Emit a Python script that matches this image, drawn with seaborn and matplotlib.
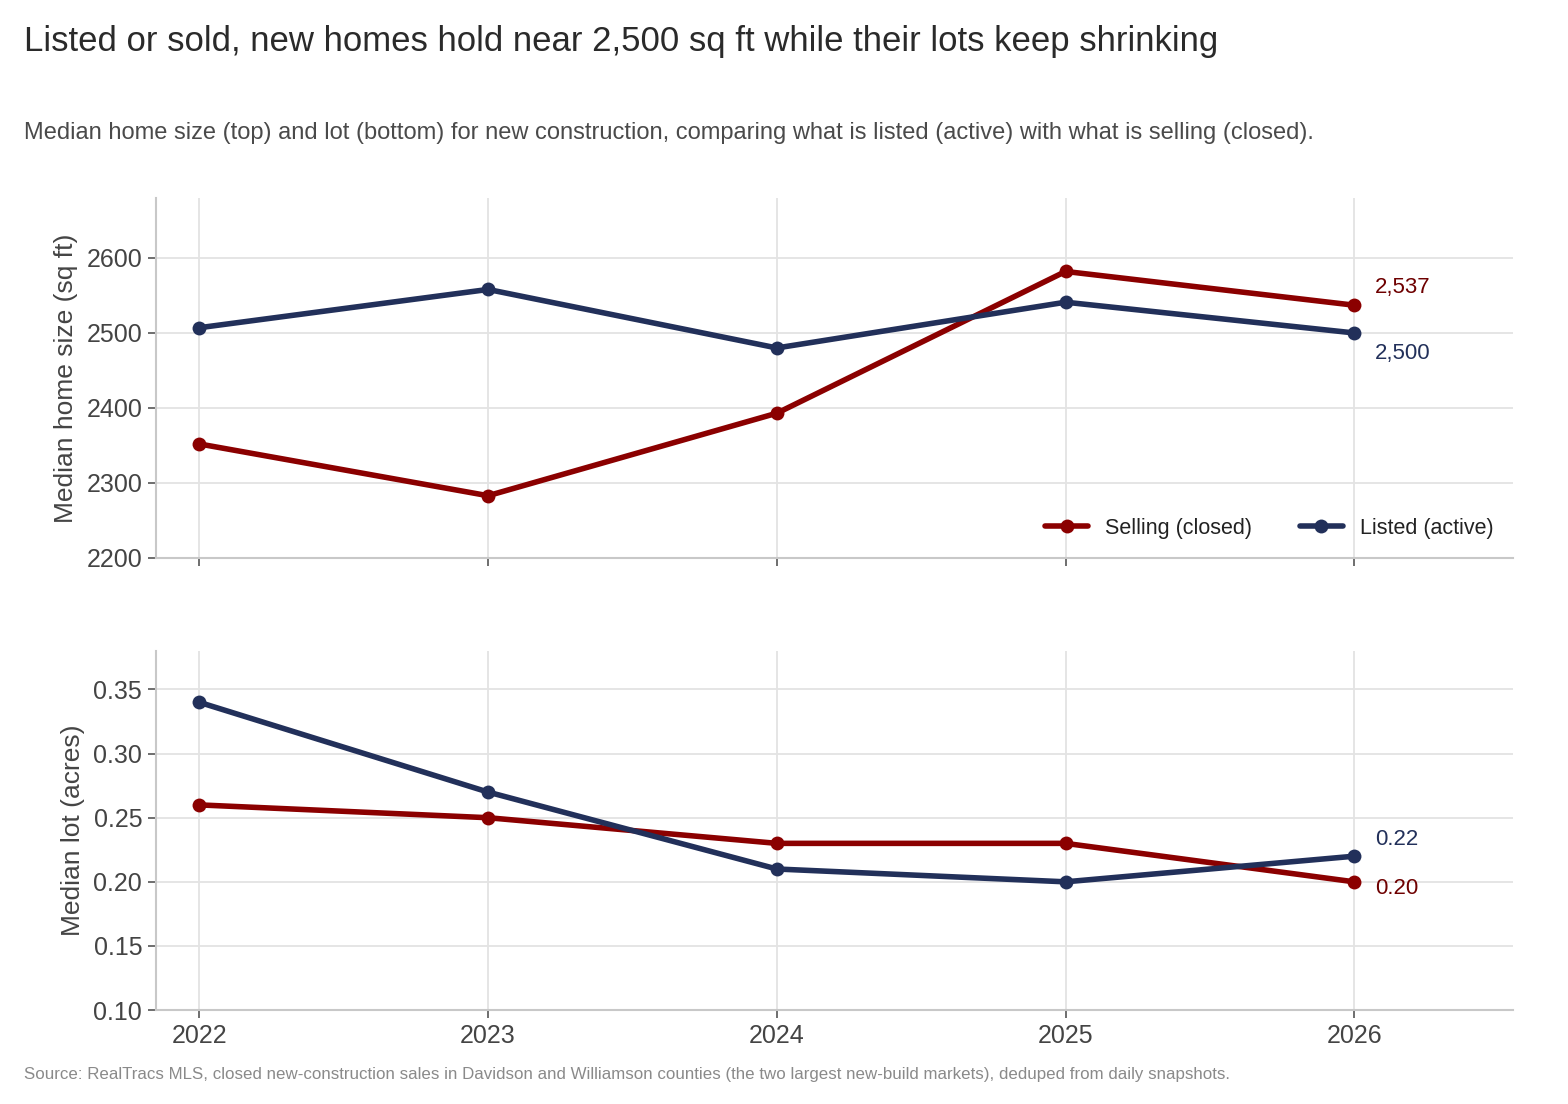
import matplotlib
matplotlib.use("Agg")
import matplotlib.pyplot as plt
import seaborn as sns
import pandas as pd

years = [2022, 2023, 2024, 2025, 2026]
size_selling = [2352, 2283, 2393, 2582, 2537]
size_listed = [2507, 2558, 2480, 2541, 2500]
lot_selling = [0.26, 0.25, 0.23, 0.23, 0.20]
lot_listed = [0.34, 0.27, 0.21, 0.20, 0.22]
series_names = ["Selling (closed)", "Listed (active)"]

RED = "#8b0000"
NAVY = "#22305a"
RED_TXT = "#6e0000"

sns.set_theme(style="whitegrid")
plt.rcParams["font.family"] = ["Liberation Sans", "DejaVu Sans"]

size_df = pd.DataFrame({
    "year": years * 2,
    "value": size_selling + size_listed,
    "series": [series_names[0]] * 5 + [series_names[1]] * 5,
})
lot_df = pd.DataFrame({
    "year": years * 2,
    "value": lot_selling + lot_listed,
    "series": [series_names[0]] * 5 + [series_names[1]] * 5,
})
palette = {series_names[0]: RED, series_names[1]: NAVY}

fig = plt.figure(figsize=(15.68, 11.04), dpi=100)
ax1 = fig.add_axes([0.0995, 0.4946, 0.8655, 0.3261])
ax2 = fig.add_axes([0.0995, 0.0851, 0.8655, 0.3252])

for ax, df in [(ax1, size_df), (ax2, lot_df)]:
    sns.lineplot(data=df, x="year", y="value", hue="series", palette=palette,
                 marker="o", markersize=10, markeredgewidth=0, linewidth=4,
                 ax=ax, legend=(ax is ax1))
    ax.set_xlim(2021.85, 2026.55)
    ax.set_xticks(years)
    ax.grid(True, color="#e3e3e3", linewidth=1.3)
    for s in ["top", "right"]:
        ax.spines[s].set_visible(False)
    for s in ["left", "bottom"]:
        ax.spines[s].set_color("#c8c8c8")
        ax.spines[s].set_linewidth(1.5)
    ax.tick_params(axis="both", which="both", length=6, width=1.2, color="#555555",
                   labelsize=18, labelcolor="#444444", bottom=True, left=True, pad=4)
    ax.set_xlabel("")

ax1.set_ylim(2200, 2680)
ax1.set_yticks([2200, 2300, 2400, 2500, 2600])
ax1.set_xticklabels([])
ax1.set_ylabel("Median home size (sq ft)", fontsize=19, color="#444444", labelpad=6)

ax2.set_ylim(0.10, 0.38)
ax2.set_yticks([0.10, 0.15, 0.20, 0.25, 0.30, 0.35])
ax2.set_yticklabels([f"{v:.2f}" for v in [0.10, 0.15, 0.20, 0.25, 0.30, 0.35]])
ax2.set_xticklabels([str(y) for y in years])
ax2.set_ylabel("Median lot (acres)", fontsize=19, color="#444444", labelpad=6)

leg = ax1.legend(loc="lower right", ncol=2, frameon=False, fontsize=15.5,
                 handlelength=2.0, columnspacing=2.2, bbox_to_anchor=(1.0, 0.0))
for t in leg.get_texts():
    t.set_color("#222222")

# End labels
ax1.annotate(f"{size_selling[-1]:,}", (years[-1], size_selling[-1]), xytext=(15, 13),
             textcoords="offset points", fontsize=16, color=RED_TXT, va="center", ha="left")
ax1.annotate(f"{size_listed[-1]:,}", (years[-1], size_listed[-1]), xytext=(15, -15),
             textcoords="offset points", fontsize=16, color=NAVY, va="center", ha="left")
ax2.annotate(f"{lot_listed[-1]:.2f}", (years[-1], lot_listed[-1]), xytext=(15, 12),
             textcoords="offset points", fontsize=16, color=NAVY, va="center", ha="left")
ax2.annotate(f"{lot_selling[-1]:.2f}", (years[-1], lot_selling[-1]), xytext=(15, -4.5),
             textcoords="offset points", fontsize=16, color=RED_TXT, va="center", ha="left")

fig.text(24 / 1568, 1 - 42 / 1104,
         "Listed or sold, new homes hold near 2,500 sq ft while their lots keep shrinking",
         fontsize=25, color="#2a2a2a", va="center", ha="left")
fig.text(24 / 1568, 1 - 133 / 1104,
         "Median home size (top) and lot (bottom) for new construction, comparing what is listed (active) with what is selling (closed).",
         fontsize=17, color="#4a4a4a", va="center", ha="left")
fig.text(24 / 1568, 1 - 1075 / 1104,
         "Source: RealTracs MLS, closed new-construction sales in Davidson and Williamson counties (the two largest new-build markets), deduped from daily snapshots.",
         fontsize=12.2, color="#8a8a8a", va="center", ha="left")

fig.savefig("out.png", dpi=100, facecolor="white")
